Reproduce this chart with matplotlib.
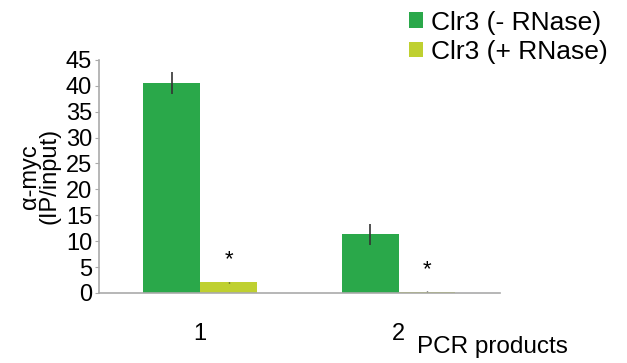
import matplotlib
matplotlib.use("Agg")
import matplotlib.pyplot as plt
import numpy as np

plt.rcParams['font.family'] = ['Liberation Sans', 'DejaVu Sans']

groups = ["1", "2"]
minus_rnase = [40.6, 11.3]
minus_err = [2.1, 2.0]
plus_rnase = [2.1, 0.2]
plus_err = [0.1, 0.1]
series_names = ["Clr3 (- RNase)", "Clr3 (+ RNase)"]
colors = ["#2aa84a", "#bfd030"]

fig = plt.figure(figsize=(6.27, 3.63), dpi=100)
ax = fig.add_axes([0.158, 0.193, 0.639, 0.642])

x = np.arange(1, len(groups) + 1)
w = 0.286
ax.bar(x - w / 2, minus_rnase, w, color=colors[0], label=series_names[0])
ax.bar(x + w / 2, plus_rnase, w, color=colors[1], label=series_names[1])
ax.errorbar(x - w / 2, minus_rnase, yerr=minus_err, fmt="none", ecolor="#333333", elinewidth=1.2, capsize=0)
ax.errorbar(x + w / 2, plus_rnase, yerr=plus_err, fmt="none", ecolor="#333333", elinewidth=1.0, capsize=0)
for xi, v in zip(x + w / 2, plus_rnase):
    ax.text(xi, v + 4.3, "*", ha="center", va="center", fontsize=16)

ax.set_xlim(0.49, 2.51)
ax.set_ylim(0, 45)
ax.set_yticks(range(0, 46, 5))
ax.set_xticks(x)
ax.set_xticklabels(groups)
ax.tick_params(axis="y", labelsize=17, length=3, color="#aaaaaa", pad=2)
ax.tick_params(axis="x", labelsize=17, length=0, pad=22)
for s in ["top", "right"]:
    ax.spines[s].set_visible(False)
for s in ["left", "bottom"]:
    ax.spines[s].set_color("#aaaaaa")
    ax.spines[s].set_linewidth(1.2)

ax.set_ylabel("α-myc\n(IP/input)", fontsize=17, linespacing=0.85, labelpad=4)
fig.text(0.905, 0.045, "PCR products", ha="right", va="center", fontsize=17.5)

ax.legend(loc="upper left", bbox_to_anchor=(0.635, 1.0), bbox_transform=fig.transFigure,
          frameon=False, fontsize=19, handlelength=0.55, handleheight=0.55,
          handletextpad=0.3, labelspacing=0.2, borderaxespad=0)

fig.savefig("out.png", dpi=100)
